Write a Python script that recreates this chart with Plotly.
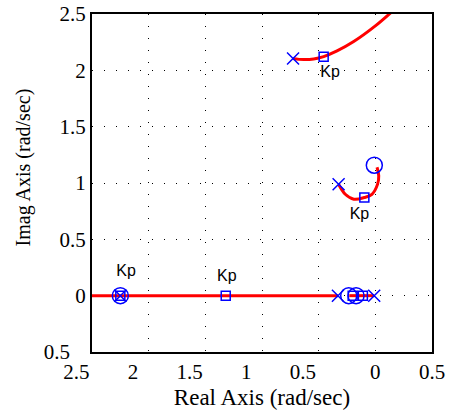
import plotly.graph_objects as go

# Root locus branches (real, imag)
top_re = [-0.727, -0.633, -0.544, -0.456, -0.338, -0.191, 0.0, 0.138]
top_im = [2.104, 2.096, 2.101, 2.122, 2.172, 2.255, 2.394, 2.513]
mid_re = [-0.324, -0.265, -0.19, -0.097, -0.03, 0.02, 0.03, 0.015]
mid_im = [0.989, 0.90, 0.856, 0.871, 0.90, 0.99, 1.063, 1.14]
real1_re = [-2.5, -0.33]
real1_im = [0.0, 0.0]
real2_re = [-0.23, -0.01]
real2_im = [0.0, 0.0]

# Poles, zeros, Kp markers
poles_re = [-0.726, -0.324, -0.33, -0.01, -2.25]
poles_im = [2.105, 0.989, 0.0, 0.0, 0.0]
zeros_re = [-0.009, -2.25, -0.235, -0.17]
zeros_im = [1.158, 0.0, 0.0, 0.0]
kp_re = [-0.456, -0.097, -1.32, -2.25, -0.2, -0.11]
kp_im = [2.12, 0.871, 0.0, 0.0, 0.0, 0.0]
kp_label_re = [-0.40, -0.14, -1.31, -2.20]
kp_label_im = [1.98, 0.72, 0.165, 0.21]

x_ticks = [-2.5, -2, -1.5, -1, -0.5, 0, 0.5]
y_ticks = [-0.5, 0, 0.5, 1, 1.5, 2, 2.5]
pad = "\u00a0" * 6
x_text = ["2.5" + pad, "2" + pad, "1.5" + pad, "1" + pad, "0.5" + pad, "0", "0.5"]
y_text = ["0.5" + "\u00a0" * 3, "0", "0.5", "1", "1.5", "2", "2.5"]

red = dict(color="#ff0000", width=3)
fig = go.Figure()
for xs, ys in [(real1_re, real1_im), (real2_re, real2_im), (top_re, top_im), (mid_re, mid_im)]:
    fig.add_trace(go.Scatter(x=xs, y=ys, mode="lines", line=red, line_shape="spline", hoverinfo="skip"))

blue = "#0000ff"
fig.add_trace(go.Scatter(x=poles_re, y=poles_im, mode="markers",
                         marker=dict(symbol="x-thin-open", size=12, color=blue, line=dict(color=blue, width=1.5))))
fig.add_trace(go.Scatter(x=zeros_re, y=zeros_im, mode="markers",
                         marker=dict(symbol="circle-open", size=16, color=blue, line=dict(color=blue, width=1.5))))
fig.add_trace(go.Scatter(x=kp_re, y=kp_im, mode="markers",
                         marker=dict(symbol="square-open", size=9, color=blue, line=dict(color=blue, width=1.5))))
fig.add_trace(go.Scatter(x=kp_label_re, y=kp_label_im, mode="text", text=["Kp"] * len(kp_label_re),
                         textfont=dict(family="Liberation Sans", size=16, color="black")))

axis_common = dict(showline=True, linecolor="black", linewidth=2, mirror=True, automargin=False,
                   showgrid=True, gridcolor="black", gridwidth=1, griddash="1px,11px",
                   zeroline=False, ticks="", tickfont=dict(family="Liberation Serif", size=21, color="black"))
fig.update_xaxes(range=[-2.5, 0.5], tickvals=x_ticks, ticktext=x_text,
                 title=dict(text="Real Axis (rad/sec)", font=dict(family="Liberation Serif", size=23, color="black"), standoff=6),
                 **axis_common)
fig.update_yaxes(range=[-0.5, 2.5], tickvals=y_ticks, ticktext=y_text, **axis_common)
fig.add_annotation(text="Imag Axis (rad/sec)", xref="paper", yref="paper", x=-0.203, y=0.546,
                   textangle=-90, showarrow=False, xanchor="center", yanchor="middle",
                   font=dict(family="Liberation Serif", size=20, color="black"))
fig.update_layout(width=451, height=417, margin=dict(l=92, r=19, t=14, b=65),
                  plot_bgcolor="white", paper_bgcolor="white", showlegend=False)
fig.write_html("out.html", config={"displayModeBar": False},
               post_script="document.body.style.margin='0';document.body.style.overflow='hidden';")
